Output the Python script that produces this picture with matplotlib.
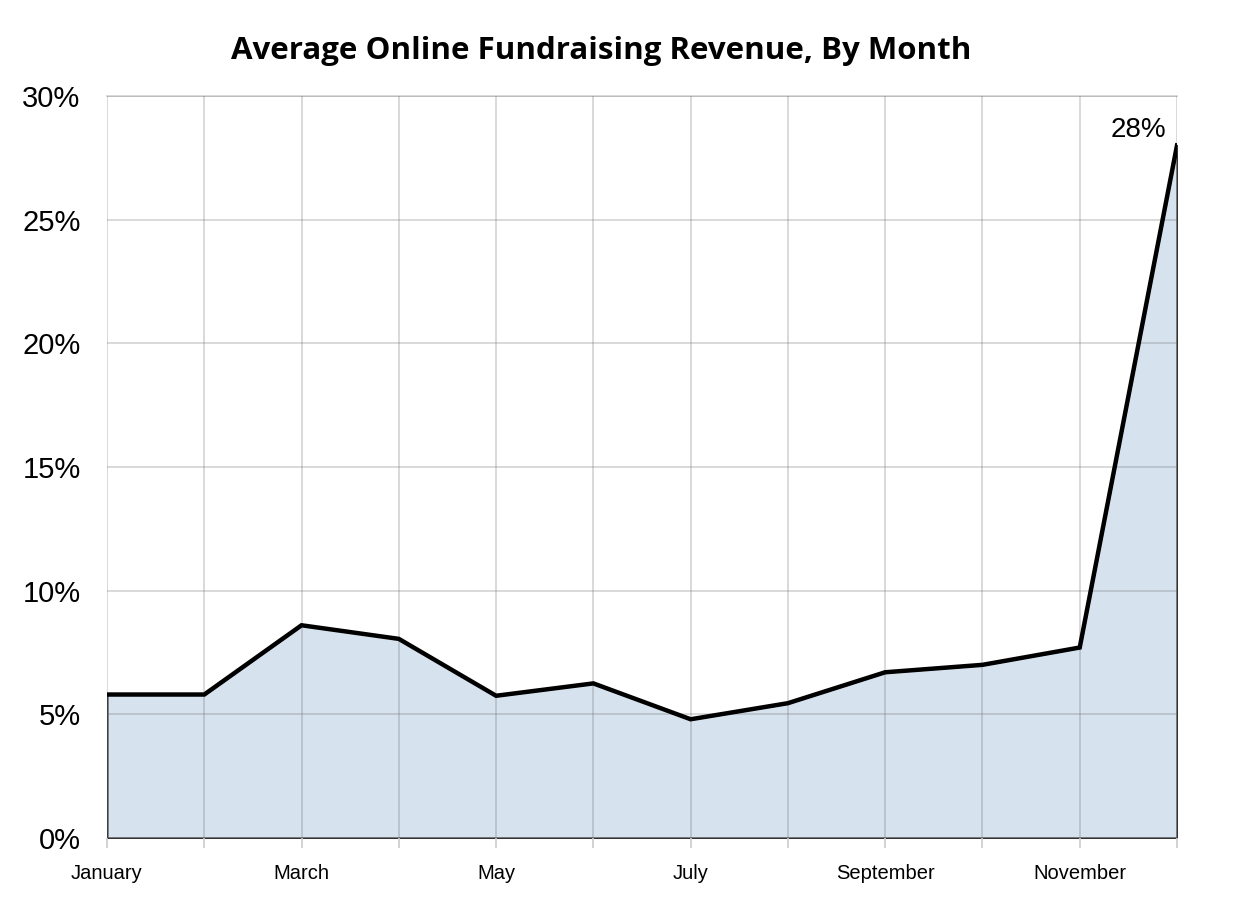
import numpy as np
import matplotlib.pyplot as plt

months = ['January', 'February', 'March', 'April', 'May', 'June', 'July',
          'August', 'September', 'October', 'November', 'December']
revenue = [5.8, 5.8, 8.6, 8.05, 5.75, 6.25, 4.8, 5.45, 6.7, 7.0, 7.7, 28.0]

plt.rcParams['font.family'] = ['Liberation Sans', 'DejaVu Sans']

fig = plt.figure(figsize=(12.5, 9.07), dpi=100)
ax = fig.add_axes([0.0856, 0.0761, 0.856, 0.8181])

x = np.arange(len(months))

# area fill with thin outline, thick line on top
ax.fill_between(x, 0, revenue, facecolor='#d6e2ee', edgecolor='#333333',
                linewidth=1.5, zorder=1)
ax.plot(x, revenue, color='black', linewidth=3.2, zorder=3,
        solid_joinstyle='miter')

ax.set_xlim(0, len(months) - 1)
ax.set_ylim(0, 30)

ax.set_yticks([0, 5, 10, 15, 20, 25, 30])
ax.set_yticklabels(['0%', '5%', '10%', '15%', '20%', '25%', '30%'], fontsize=21)

ax.set_xticks(x)
ax.set_xticklabels([m if i % 2 == 0 else '' for i, m in enumerate(months)],
                   fontsize=14.5)
ax.tick_params(axis='x', length=7, color='#cccccc', width=1.2, pad=12)
ax.tick_params(axis='y', length=0, pad=19)

ax.grid(True, color='#606060', alpha=0.25, linewidth=1.3, zorder=2)
ax.set_axisbelow(False)
for s in ax.spines.values():
    s.set_visible(False)
ax.spines['top'].set_visible(True)
ax.spines['top'].set_color('#d6d6d6')
ax.spines['top'].set_linewidth(1.3)

ax.annotate('28%', (x[-1], revenue[-1]), xytext=(-8, 2),
            textcoords='offset points', ha='right', va='bottom', fontsize=20)

fig.text(0.481, 0.944, 'Average Online Fundraising Revenue, By Month',
         ha='center', va='center', fontsize=22.5, fontweight='bold',
         family=['Open Sans', 'DejaVu Sans'])

fig.savefig('out.png', dpi=100)
